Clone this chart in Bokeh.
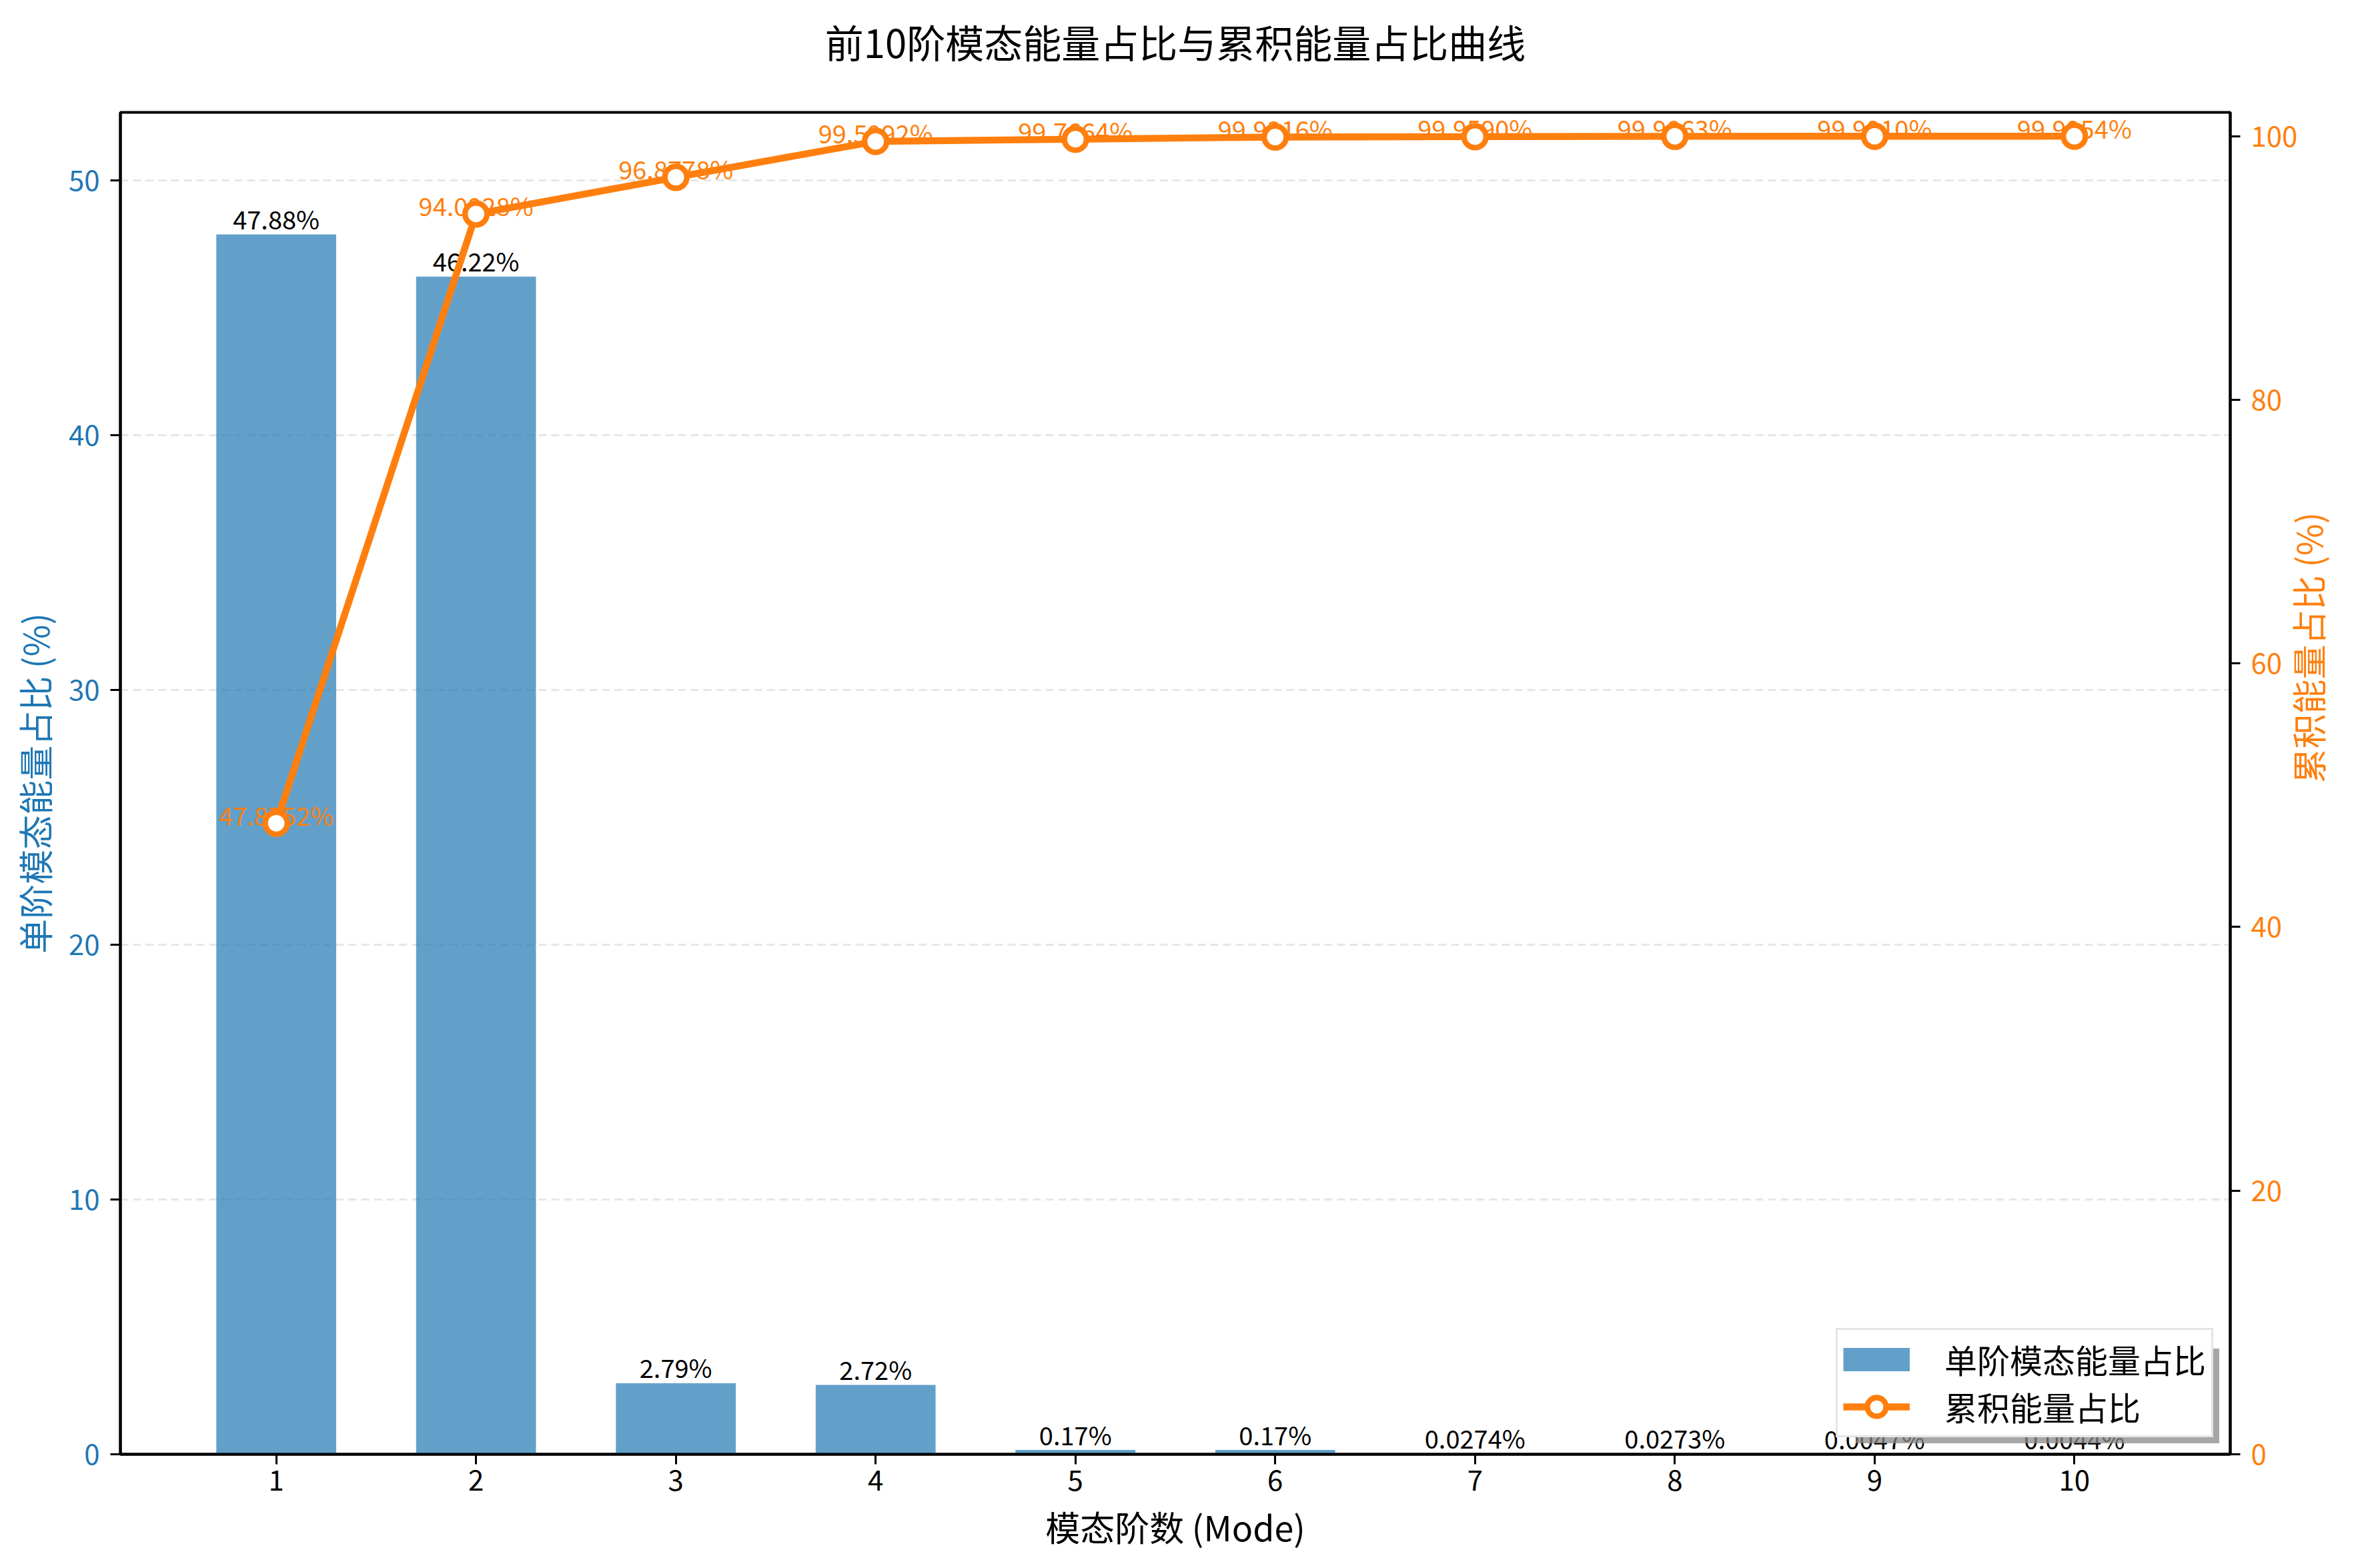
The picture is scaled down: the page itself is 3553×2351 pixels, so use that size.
import math
from bokeh.plotting import figure
from bokeh.models import Range1d, LinearAxis, FixedTicker, Legend, LegendItem, ColumnDataSource
from bokeh.core.properties import value
from bokeh.embed import file_html
from bokeh.resources import INLINE

# ---- data ----
modes = [1, 2, 3, 4, 5, 6, 7, 8, 9, 10]
energy_pct = [47.88, 46.22, 2.79, 2.72, 0.17, 0.17, 0.0274, 0.0273, 0.0047, 0.0044]
cum_pct = [47.8752, 94.0928, 96.8778, 99.5992, 99.7664, 99.9316, 99.9590, 99.9863, 99.9910, 99.9954]
left_ticks = [0, 10, 20, 30, 40, 50]
right_ticks = [0, 20, 40, 60, 80, 100]

title_text = "前10阶模态能量占比与累积能量占比曲线"
xlabel = "模态阶数 (Mode)"
ylabel_left = "单阶模态能量占比 (%)"
ylabel_right = "累积能量占比 (%)"
legend_bar = "单阶模态能量占比"
legend_line = "累积能量占比"

BLUE = "#1f77b4"
ORANGE = "#ff7f0e"
FONT = "Noto Sans CJK SC"

bar_labels = [("%.2f%%" % v) if v >= 0.1 else ("%.4f%%" % v) for v in energy_pct]
cum_labels = ["%.4f%%" % v for v in cum_pct]

src = ColumnDataSource(dict(x=modes, e=energy_pct, c=cum_pct, bl=bar_labels, cl=cum_labels))

W, H = 3537, 2335
p = figure(width=W, height=H, output_backend="svg", toolbar_location=None,
           x_range=Range1d(0.22, 10.78), y_range=Range1d(0, max(energy_pct) * 1.1),
           min_border_left=180, min_border_right=187, min_border_top=168, min_border_bottom=155)

p.extra_y_ranges = {"cum": Range1d(0, 101.8)}

p.outline_line_color = "black"
p.outline_line_width = 4
p.outline_line_alpha = 1.0

# grids
p.xgrid.visible = False
p.ygrid.ticker = FixedTicker(ticks=left_ticks)
p.ygrid.grid_line_color = "#b0b0b0"
p.ygrid.grid_line_alpha = 0.3
p.ygrid.grid_line_width = 3
p.ygrid.grid_line_dash = "12 7"

def style_axis(ax, color, label_size="52px"):
    ax.axis_line_color = "black"
    ax.axis_line_width = 4
    ax.major_tick_line_color = "black"
    ax.major_tick_line_width = 3
    ax.major_tick_out = 15
    ax.major_tick_in = 0
    ax.minor_tick_line_color = None
    ax.major_label_text_font = FONT
    ax.major_label_text_font_size = "42px"
    ax.major_label_text_color = color
    ax.axis_label_text_font = FONT
    ax.axis_label_text_font_size = label_size
    ax.axis_label_text_font_style = "normal"
    ax.axis_label_text_color = color

# bottom x axis
bax = p.xaxis[0]
lax = p.yaxis[0]
bax.ticker = FixedTicker(ticks=modes)
style_axis(bax, "black")
bax.axis_label = xlabel
bax.major_label_standoff = 8
bax.axis_label_standoff = 13

# left axis
lax.ticker = FixedTicker(ticks=left_ticks)
style_axis(lax, BLUE)
lax.axis_label = ylabel_left
lax.major_label_standoff = 16
lax.axis_label_standoff = 11

# right axis
rax = LinearAxis(y_range_name="cum", ticker=FixedTicker(ticks=right_ticks), axis_label=ylabel_right)
style_axis(rax, ORANGE)
rax.major_label_standoff = 16
rax.axis_label_standoff = 12
rax.axis_label_orientation = math.pi / 2
p.add_layout(rax, "right")

# title drawn as the label of a bare axis above the frame
tax = LinearAxis(ticker=FixedTicker(ticks=[]), axis_label=title_text)
style_axis(tax, "black", "58px")
tax.axis_line_color = None
tax.major_tick_line_color = None
tax.major_tick_out = 0
tax.major_label_standoff = 0
tax.axis_label_standoff = 65
p.add_layout(tax, "above")

# bars
bars = p.vbar(x="x", top="e", width=0.6, source=src, fill_color=BLUE, fill_alpha=0.7, line_color=None)

# bar labels
p.text(x="x", y="e", text="bl", source=src, text_font=value(FONT), text_font_size="38px",
       text_align="center", text_baseline="alphabetic", y_offset=-24, text_color="black")

# cumulative labels (under markers)
p.text(x="x", y="c", text="cl", source=src, y_range_name="cum", text_font=value(FONT),
       text_font_size="38px", text_align="center", text_baseline="alphabetic", y_offset=-13,
       text_color=ORANGE)

# cumulative line
ln = p.line(x="x", y="c", source=src, y_range_name="cum", line_color=ORANGE, line_width=10.4)
mk = p.scatter(x="x", y="c", source=src, y_range_name="cum", marker="circle", size=33,
               fill_color="white", line_color=ORANGE, line_width=8.3)

# legend-only renderers (nothing drawn in the plot)
nan_src = ColumnDataSource(dict(x=[math.nan], y=[math.nan]))
bar_swatch = p.line(x="x", y="y", source=nan_src, line_color=BLUE, line_alpha=0.7, line_width=35)
ghost_a = p.line(x="x", y="y", source=nan_src, line_alpha=0)
ghost_b = p.line(x="x", y="y", source=nan_src, line_alpha=0)

def make_legend(items, margin):
    lg = Legend(items=items, location="bottom_right")
    lg.margin = margin
    lg.padding = 8
    lg.spacing = 0
    lg.glyph_width = 100
    lg.glyph_height = 70
    lg.label_standoff = 52
    lg.label_text_font = FONT
    lg.label_text_font_size = "49px"
    lg.label_text_baseline = "middle"
    return lg

shadow = make_legend([LegendItem(label="\u3000" * len(legend_bar), renderers=[ghost_a]),
                      LegendItem(label="\u3000" * len(legend_line), renderers=[ghost_b])], 16)
shadow.label_text_alpha = 0
shadow.border_line_color = None
shadow.background_fill_color = "#888888"
shadow.background_fill_alpha = 0.75
p.add_layout(shadow)

legend = make_legend([LegendItem(label=legend_bar, renderers=[bar_swatch]),
                      LegendItem(label=legend_line, renderers=[ln, mk])], 25)
legend.label_text_color = "black"
legend.border_line_color = "#cccccc"
legend.border_line_width = 3
legend.background_fill_color = "white"
legend.background_fill_alpha = 1.0
p.add_layout(legend)

open("out.html", "w").write(file_html(p, INLINE))
